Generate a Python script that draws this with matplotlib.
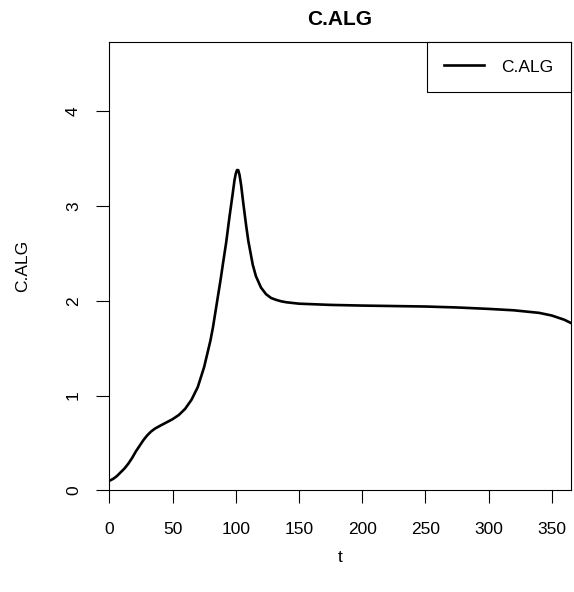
import numpy as np
import matplotlib
matplotlib.use("Agg")
import matplotlib.pyplot as plt

# values
t = [0, 3, 6, 9, 12, 15, 18, 21, 24, 27, 30, 33, 36, 40, 45, 50, 55, 60,
     65, 70, 75, 80, 82, 85, 88, 90, 92.5, 95, 97.5, 99, 100, 101, 102,
     103, 104.3, 106, 108.3, 110, 113.5, 116, 120, 124, 128, 132, 136, 140,
     150, 175, 200, 225, 250, 275, 300, 320, 340, 350, 360, 365]
c_alg = [0.10, 0.12, 0.15, 0.19, 0.23, 0.28, 0.34, 0.41, 0.47, 0.53, 0.58,
         0.62, 0.65, 0.68, 0.715, 0.75, 0.795, 0.86, 0.955, 1.09, 1.30, 1.58,
         1.72, 1.97, 2.22, 2.40, 2.62, 2.88, 3.12, 3.27, 3.34, 3.38, 3.38,
         3.33, 3.22, 3.03, 2.79, 2.63, 2.38, 2.26, 2.14, 2.07, 2.03, 2.01,
         1.995, 1.985, 1.97, 1.957, 1.95, 1.945, 1.94, 1.93, 1.915, 1.90,
         1.873, 1.845, 1.80, 1.767]
xticks = [0, 50, 100, 150, 200, 250, 300, 350]
yticks = [0, 1, 2, 3, 4]

plt.rcParams['font.family'] = ['Liberation Sans', 'DejaVu Sans']

fig = plt.figure(figsize=(5.74, 5.92), dpi=100)
ax = fig.add_axes([0.1904, 0.1718, 0.8039, 0.7572])

ax.plot(t, c_alg, color='black', lw=1.9, label='C.ALG')
ax.set_xlim(0, 365)
ax.set_ylim(0, max(c_alg) * 1.4)
ax.set_xticks(xticks)
ax.set_yticks(yticks)
ax.tick_params(direction='out', color='black', length=9.4, width=0.8,
               labelsize=12.5)
ax.tick_params(axis='x', pad=13.5)
ax.tick_params(axis='y', pad=11)
for lab in ax.get_yticklabels():
    lab.set_rotation(90)
    lab.set_va('center')
for s in ax.spines.values():
    s.set_linewidth(0.8)

ax.set_title('C.ALG', fontsize=15, fontweight='bold', pad=12)
ax.set_xlabel('t', fontsize=12.5, labelpad=9.5)
ax.set_ylabel('C.ALG', fontsize=12.5, labelpad=26)

leg = ax.legend(loc='upper right', borderaxespad=0, fancybox=False,
                edgecolor='black', framealpha=1, fontsize=12.5,
                handlelength=2.3, borderpad=1.0, handletextpad=1.0)
leg.get_frame().set_linewidth(0.8)

fig.savefig('out.png', dpi=100)
